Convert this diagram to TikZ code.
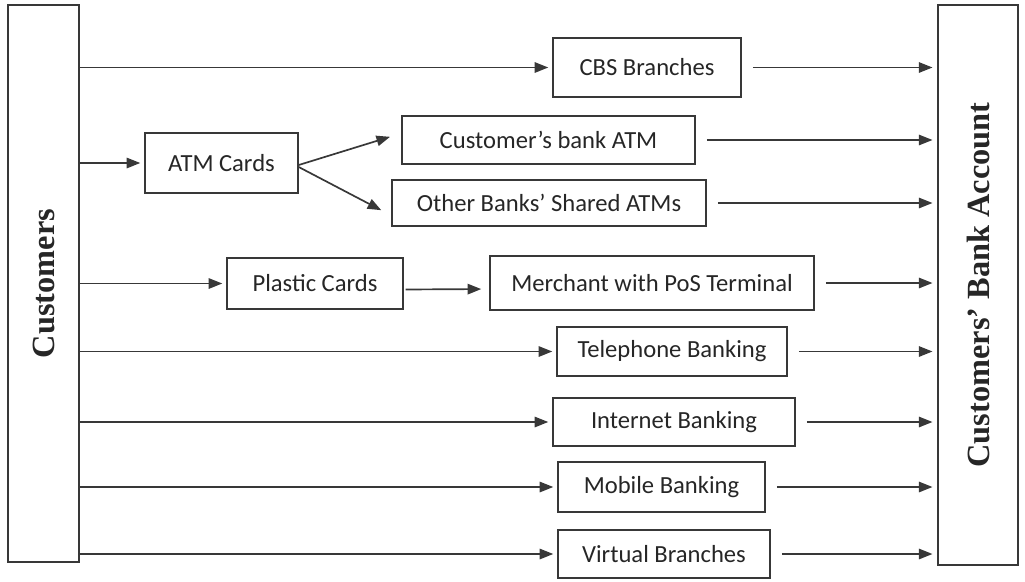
\documentclass[tikz,border=0pt]{standalone}
\usepackage{fontspec}
\usepackage{graphicx}
\setmainfont{Liberation Serif}
\newfontfamily\calfont{Carlito}
\usetikzlibrary{arrows.meta}
\definecolor{ink}{HTML}{383838}
\definecolor{type}{HTML}{262626}

\begin{document}
\begin{tikzpicture}[x=0.025cm,y=-0.025cm,
  chan/.style={draw=ink,line width=1pt,text=type,inner sep=0pt,
    font=\calfont\fontsize{17.5}{20}\selectfont},
  bar/.style={draw=ink,line width=1pt,text=type,inner sep=0pt,
    font=\bfseries\fontsize{23}{26}\selectfont},
  arr/.style={draw=ink,line width=1.2pt,-{Triangle[length=0.34cm,width=0.26cm]}}]
\useasboundingbox (0,0) rectangle (1025,581);

% the two end bars
\node[bar,minimum width=1.775cm,minimum height=13.925cm] (cust) at (43.5,283.5)
  {\rotatebox{90}{Customers}};
\node[bar,minimum width=2cm,minimum height=14cm] (acct) at (978,285)
  {\rotatebox{90}{Customers’ Bank Account}};

% delivery channels
\node[chan,minimum width=4.7cm,minimum height=1.475cm] (cbs) at (647,67.5) {CBS Branches};
\node[chan,minimum width=3.825cm,minimum height=1.5cm] (atm) at (221.5,163) {ATM Cards};
\node[chan,minimum width=7.325cm,minimum height=1.2cm] (own) at (548.5,140) {Customer’s bank ATM};
\node[chan,minimum width=7.85cm,minimum height=1.15cm] (shared) at (549,203) {Other Banks’ Shared ATMs};
\node[chan,minimum width=4.4cm,minimum height=1.275cm] (plastic) at (315,283.5) {Plastic Cards};
\node[chan,minimum width=8.1cm,minimum height=1.35cm] (pos) at (652,283) {Merchant with PoS Terminal};
\node[chan,minimum width=5.75cm,minimum height=1.225cm] (phone) at (672,351.5) {Telephone Banking};
\node[chan,minimum width=6.05cm,minimum height=1.2cm] (web) at (674,422) {Internet Banking};
\node[chan,minimum width=5.175cm,minimum height=1.25cm] (mobile) at (661.5,487) {Mobile Banking};
\node[chan,minimum width=5.3cm,minimum height=1.2cm] (virtual) at (664,554) {Virtual Branches};

% from the customers
\foreach \n in {cbs,atm,plastic,phone,web,mobile,virtual}
  \draw[arr,shorten >=0.1cm] (cust.east |- \n) -- (\n.west);

% the card routes
\draw[arr] ([yshift=-0.05cm]atm.east) -- ([xshift=-0.28cm,yshift=0.08cm]own.west);
\draw[arr] ([yshift=-0.1cm]atm.east) -- ([xshift=-0.25cm,yshift=-0.18cm]shared.west);
\draw[arr,shorten <=0.05cm,shorten >=0.2cm] ([yshift=-0.15cm]plastic.east) -- ([yshift=-0.15cm]pos.west);

% into the account
\foreach \n in {cbs,own,shared,pos,phone,web,mobile,virtual}
  \draw[arr,shorten <=0.28cm,shorten >=0.12cm] (\n.east) -- (acct.west |- \n.east);
\end{tikzpicture}
\end{document}
